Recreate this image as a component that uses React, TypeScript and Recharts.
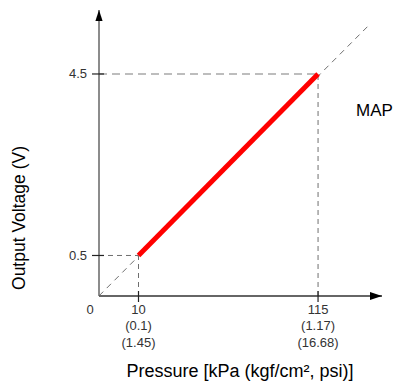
import { LineChart, Line, XAxis, YAxis, ReferenceLine, ReferenceDot } from "recharts";

// sensor output: pressure (kPa) -> voltage (V)
const MAP_LINE = [
  { p: 10, v: 0.5 },
  { p: 115, v: 4.5 },
];

// dashed ideal-response line through the origin corner
const DIAGONAL = [
  { p: -13.1, v: -0.39 },
  { p: 145.4, v: 5.6 },
];

const P_TICKS = [10, 115];
const P_KGF = ["(0.1)", "(1.17)"];
const P_PSI = ["(1.45)", "(16.68)"];
const V_TICKS = [0.5, 4.5];

const P_DOMAIN: [number, number] = [-13.1, 152.4];
const V_DOMAIN: [number, number] = [-0.393, 5.91];

const FONT = "'Liberation Sans', Arial, Helvetica, sans-serif";
const GUIDE = "#6f6f6f";

function PressureTick(props: any) {
  const { x, y, payload } = props;
  const i = P_TICKS.indexOf(payload.value);
  return (
    <g>
      <line x1={x} x2={x} y1={y - 5} y2={y + 6} stroke="#222" strokeWidth={1.2} />
      <text x={x} y={y + 17.5} textAnchor="middle" fontSize={13} fill="#333" fontFamily={FONT}>
        {payload.value}
      </text>
      <text x={x} y={y + 34} textAnchor="middle" fontSize={13} fill="#333" fontFamily={FONT}>
        {P_KGF[i]}
      </text>
      <text x={x} y={y + 50.5} textAnchor="middle" fontSize={13} fill="#333" fontFamily={FONT}>
        {P_PSI[i]}
      </text>
    </g>
  );
}

function VoltageTick(props: any) {
  const { x, y, payload } = props;
  return (
    <g>
      <line x1={x - 7} x2={x + 5} y1={y} y2={y} stroke="#222" strokeWidth={1.2} />
      <text x={x - 12} y={y + 4.5} textAnchor="end" fontSize={13} fill="#333" fontFamily={FONT}>
        {payload.value}
      </text>
    </g>
  );
}

const arrowRight = (props: any) => (
  <path d={`M${props.cx},${props.cy} l-12,-4 l0,8 z`} fill="#000" />
);
const arrowUp = (props: any) => (
  <path d={`M${props.cx},${props.cy} l-3.6,11 l7.2,0 z`} fill="#000" />
);
const originLabel = (props: any) => (
  <text x={props.cx - 9} y={props.cy + 17.5} textAnchor="middle" fontSize={13} fill="#333" fontFamily={FONT}>
    0
  </text>
);

export default function App() {
  return (
    <div style={{ width: 404, height: 392, fontFamily: FONT }}>
      <style>{"body{margin:0;}"}</style>
      <LineChart width={404} height={392} margin={{ top: 10, right: 22, bottom: 0, left: 0 }}>
        <XAxis
          type="number"
          dataKey="p"
          domain={P_DOMAIN}
          allowDataOverflow
          ticks={P_TICKS}
          height={96}
          tickSize={0}
          tickMargin={0}
          tickLine={false}
          axisLine={{ stroke: "#333", strokeWidth: 1.5 }}
          tick={PressureTick}
        />
        <YAxis
          type="number"
          dataKey="v"
          domain={V_DOMAIN}
          allowDataOverflow
          ticks={V_TICKS}
          width={99}
          tickSize={0}
          tickMargin={0}
          tickLine={false}
          axisLine={{ stroke: "#666", strokeWidth: 1.5 }}
          tick={VoltageTick}
        />

        <ReferenceLine
          segment={[{ x: P_DOMAIN[0], y: V_TICKS[1] }, { x: P_TICKS[1], y: V_TICKS[1] }]}
          stroke="#bdbdbd"
          strokeWidth={2}
          strokeDasharray="8 5"
        />
        <ReferenceLine
          segment={[{ x: P_TICKS[1], y: V_DOMAIN[0] }, { x: P_TICKS[1], y: V_TICKS[1] }]}
          stroke={GUIDE}
          strokeDasharray="5 4"
        />
        <ReferenceLine
          segment={[{ x: P_DOMAIN[0], y: V_TICKS[0] }, { x: P_TICKS[0], y: V_TICKS[0] }]}
          stroke={GUIDE}
          strokeDasharray="5 4"
        />
        <ReferenceLine
          segment={[{ x: P_TICKS[0], y: V_DOMAIN[0] }, { x: P_TICKS[0], y: V_TICKS[0] }]}
          stroke={GUIDE}
          strokeDasharray="5 4"
        />

        <Line
          data={DIAGONAL}
          dataKey="v"
          stroke={GUIDE}
          strokeWidth={1}
          strokeDasharray="6 5"
          dot={false}
          isAnimationActive={false}
        />
        <Line
          data={MAP_LINE}
          dataKey="v"
          stroke="#f00"
          strokeWidth={5}
          dot={false}
          isAnimationActive={false}
        />

        <ReferenceDot x={P_DOMAIN[1]} y={V_DOMAIN[0]} ifOverflow="visible" shape={arrowRight} />
        <ReferenceDot x={P_DOMAIN[0]} y={V_DOMAIN[1]} ifOverflow="visible" shape={arrowUp} />
        <ReferenceDot x={P_DOMAIN[0]} y={V_DOMAIN[0]} ifOverflow="visible" shape={originLabel} />

        <text x={356} y={115.5} fontSize={17} fill="#000" fontFamily={FONT}>
          MAP
        </text>
        <text
          x={19}
          y={218}
          transform="rotate(-90 19 218)"
          textAnchor="middle"
          dominantBaseline="central"
          fontSize={17.5}
          fill="#000"
          fontFamily={FONT}
        >
          Output Voltage (V)
        </text>
        <text x={240} y={377} textAnchor="middle" fontSize={18} fill="#000" fontFamily={FONT}>
          Pressure [kPa (kgf/cm², psi)]
        </text>
      </LineChart>
    </div>
  );
}
